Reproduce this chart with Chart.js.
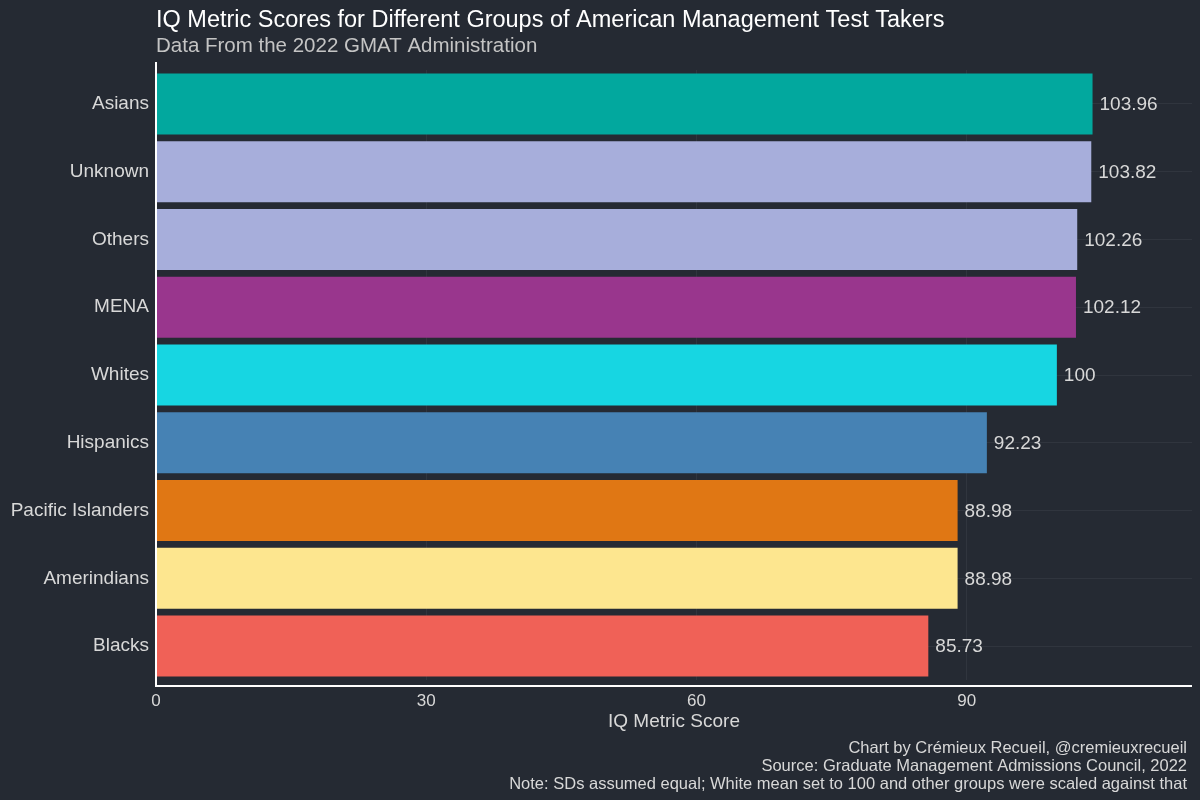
<!DOCTYPE html>
<html>
<head>
<meta charset="utf-8">
<script src="https://cdn.jsdelivr.net/npm/chart.js@4"></script>
<style>
  html, body { margin: 0; padding: 0; background: #252a33; }
  #wrap { width: 1200px; height: 800px; }
</style>
</head>
<body>
<div id="wrap"><canvas id="myChart" width="1200" height="800"></canvas></div>
<script>
const groups = ['Asians', 'Unknown', 'Others', 'MENA', 'Whites', 'Hispanics', 'Pacific Islanders', 'Amerindians', 'Blacks'];
const scores = [103.96, 103.82, 102.26, 102.12, 100, 92.23, 88.98, 88.98, 85.73];
const barColors = ['#02a89e', '#a7aedb', '#a7aedb', '#99368d', '#17d6e2', '#4682b4', '#e07714', '#fde68f', '#f06157'];
const xTicks = [0, 30, 60, 90];

const titleText = 'IQ Metric Scores for Different Groups of American Management Test Takers';
const subtitleText = 'Data From the 2022 GMAT Administration';
const captionLines = [
    'Chart by Crémieux Recueil, @cremieuxrecueil',
    'Source: Graduate Management Admissions Council, 2022',
    'Note: SDs assumed equal; White mean set to 100 and other groups were scaled against that'
];

const FONT = '"Liberation Sans", Arial, sans-serif';

// background, titles, value labels, axis lines, caption
const decorations = {
    id: 'decorations',
    beforeDraw(chart) {
        const c = chart.ctx;
        c.save();
        c.fillStyle = '#252a33';
        c.fillRect(0, 0, chart.width, chart.height);
        c.restore();
    },
    afterDatasetsDraw(chart) {
        const c = chart.ctx;
        const area = chart.chartArea;
        const meta = chart.getDatasetMeta(0);
        c.save();
        c.font = '19px ' + FONT;
        c.fillStyle = '#d8d8d8';
        c.textBaseline = 'middle';
        c.textAlign = 'left';
        meta.data.forEach((bar, i) => {
            c.fillText(String(scores[i]), bar.x + 7, bar.y + 1);
        });

        // axis lines (a bit past the plot area like ggplot's expand)
        c.strokeStyle = '#ffffff';
        c.lineWidth = 2;
        c.beginPath();
        c.moveTo(area.left, area.top - 8);
        c.lineTo(area.left, area.bottom + 6);
        c.lineTo(area.right, area.bottom + 6);
        c.stroke();

        c.textBaseline = 'alphabetic';
        c.fillStyle = '#ffffff';
        c.font = '23.5px ' + FONT;
        c.fillText(titleText, area.left, 27);
        c.fillStyle = '#c4c4c4';
        c.font = '20.5px ' + FONT;
        c.fillText(subtitleText, area.left, 52);

        c.textAlign = 'right';
        c.fillStyle = '#d8d8d8';
        c.font = '16.5px ' + FONT;
        captionLines.forEach((line, i) => {
            c.fillText(line, 1187, 753 + i * 18);
        });
        c.restore();
    }
};

const ctx = document.getElementById('myChart').getContext('2d');

const myChart = new Chart(ctx, {
    type: 'bar',
    data: {
        labels: groups,
        datasets: [{
            data: scores,
            backgroundColor: barColors,
            borderWidth: 0,
            barPercentage: 0.9,
            categoryPercentage: 1.0
        }]
    },
    plugins: [decorations],
    options: {
        indexAxis: 'y',
        responsive: false,
        animation: false,
        devicePixelRatio: 1,
        layout: {
            padding: { top: 70, right: 8, bottom: 63, left: 0 }
        },
        plugins: {
            legend: { display: false },
            tooltip: { enabled: false }
        },
        scales: {
            x: {
                min: 0,
                max: 115,
                afterBuildTicks: (scale) => {
                    scale.ticks = xTicks.map(v => ({ value: v }));
                },
                afterFit: (scale) => { scale.height = 57; },
                grid: {
                    color: '#30353e',
                    lineWidth: 1,
                    drawTicks: false
                },
                border: { display: false },
                ticks: {
                    color: '#d8d8d8',
                    padding: 11,
                    font: { family: FONT, size: 17 }
                },
                title: {
                    display: true,
                    text: 'IQ Metric Score',
                    color: '#d8d8d8',
                    padding: { top: 4, bottom: 4 },
                    font: { family: FONT, size: 19 }
                }
            },
            y: {
                afterFit: (scale) => { scale.width = 156; },
                grid: {
                    color: '#30353e',
                    lineWidth: 1,
                    offset: false,
                    drawTicks: false
                },
                border: { display: false },
                ticks: {
                    color: '#d8d8d8',
                    padding: 7,
                    font: { family: FONT, size: 19 }
                }
            }
        }
    }
});
</script>
</body>
</html>
